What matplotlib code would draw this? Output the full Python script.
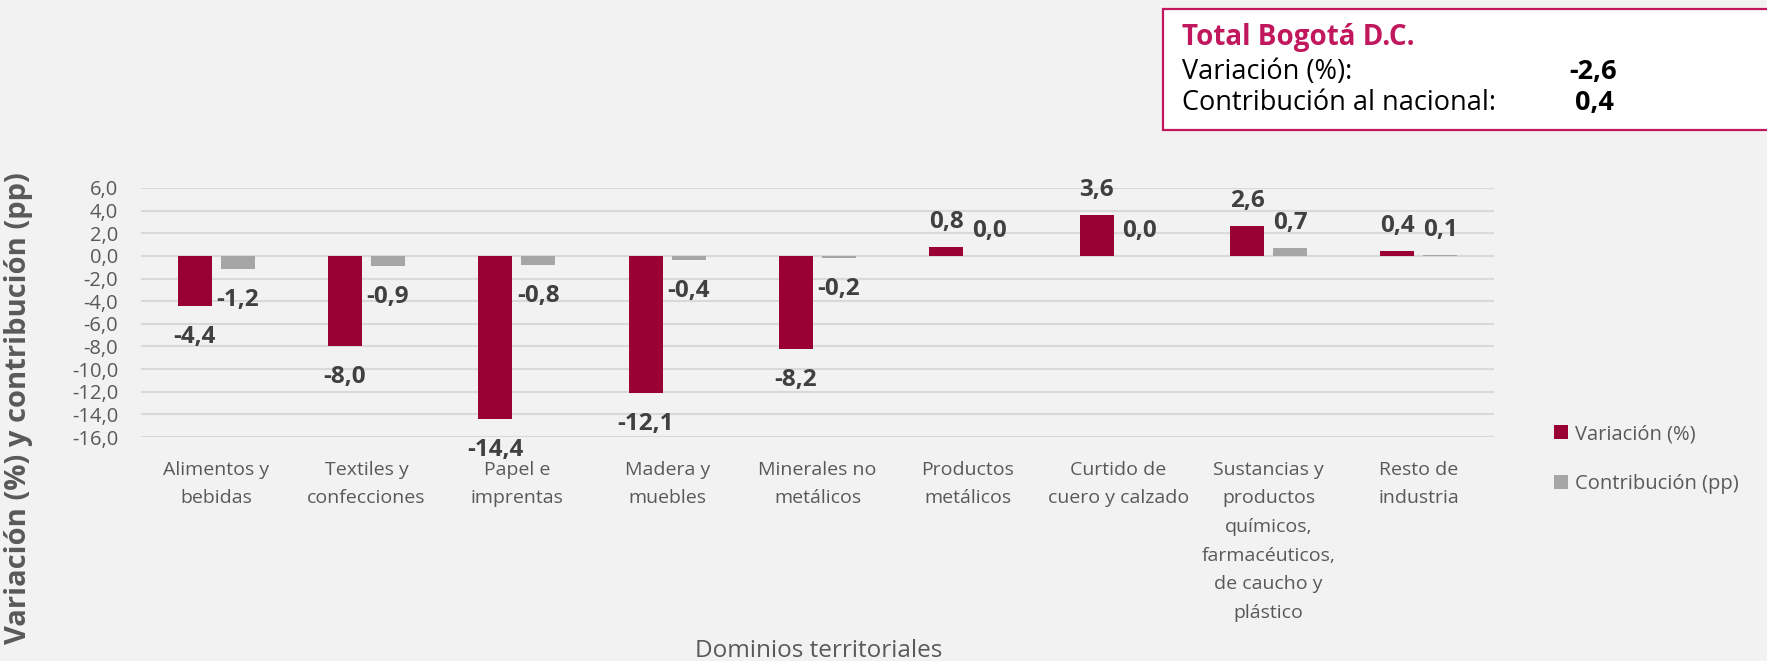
import matplotlib

matplotlib.use("Agg")
import matplotlib.pyplot as plt
import numpy as np
from matplotlib.patches import Rectangle

plt.rcParams["font.family"] = ["Open Sans", "DejaVu Sans"]

BG = "#f2f2f2"
RED, GREY = "#990033", "#a6a6a6"
INK, SUBTLE = "#404040", "#595959"
BOX_C = "#c0175d"

CATEGORIES = ["Alimentos y\nbebidas", "Textiles y\nconfecciones", "Papel e\nimprentas",
              "Madera y\nmuebles", "Minerales no\nmetálicos", "Productos\nmetálicos",
              "Curtido de\ncuero y calzado",
              "Sustancias y\nproductos\nquímicos,\nfarmacéuticos,\nde caucho y\nplástico",
              "Resto de\nindustria"]
VARIACION = [-4.4, -8.0, -14.4, -12.1, -8.2, 0.8, 3.6, 2.6, 0.4]
CONTRIBUCION = [-1.2, -0.9, -0.8, -0.4, -0.2, 0.0, 0.0, 0.7, 0.1]
YTICKS = np.arange(-16, 7, 2)

TOTAL_VAR = -2.6
TOTAL_CONTRIB = 0.4

W, H = 1767, 661


def fmt(v):
    return f"{v:.1f}".replace(".", ",")


fig = plt.figure(figsize=(W / 100, H / 100), dpi=100, facecolor=BG)
ax = fig.add_axes([141 / W, 1 - 437 / H, (1494 - 141) / W, (437 - 188) / H], facecolor=BG)

x = np.arange(len(CATEGORIES))
w, off = 0.225, 0.143
b1 = ax.bar(x - off, VARIACION, w, color=RED, label="Variación (%)", zorder=3)
b2 = ax.bar(x + off, CONTRIBUCION, w, color=GREY, label="Contribución (pp)", zorder=3)

for bars, vals in ((b1, VARIACION), (b2, CONTRIBUCION)):
    for rect, v in zip(bars, vals):
        dy = -31 if v < 0 else 25
        ax.annotate(fmt(v), (rect.get_x() + rect.get_width() / 2, v),
                    xytext=(0, dy), textcoords="offset pixels", ha="center", va="center",
                    fontsize=17.5, weight="bold", color=INK, annotation_clip=False)

ax.set_xlim(-0.5, len(CATEGORIES) - 0.5)
ax.set_ylim(-16, 6)
ax.set_yticks(YTICKS)
ax.set_yticklabels([fmt(v) for v in YTICKS], fontsize=14.5, color=SUBTLE)
ax.set_xticks(x)
ax.set_xticklabels(CATEGORIES, fontsize=14, color=SUBTLE, linespacing=1.76, va="top")
ax.tick_params(axis="y", length=0, pad=16.5)
ax.tick_params(axis="x", length=0, pad=17)
ax.grid(axis="y", color="#d9d9d9", lw=1.5, zorder=0)
for s in ax.spines.values():
    s.set_visible(False)

fig.text(19 / W, 1 - 408 / H, "Variación (%) y contribución (pp)", rotation=90,
         ha="center", va="center", fontsize=21, weight="bold", color=SUBTLE)
fig.text(819 / W, 1 - 651 / H, "Dominios territoriales", ha="center", va="center",
         fontsize=17.5, color=SUBTLE)

ax.legend(loc="upper left", bbox_to_anchor=(1550 / W, 1 - 420 / H),
          bbox_transform=fig.transFigure, frameon=False, fontsize=14.5,
          labelcolor=SUBTLE, handlelength=0.7, handleheight=0.7, handletextpad=0.35,
          labelspacing=1.48, borderaxespad=0, borderpad=0.2)

# summary box, top right (runs off the right edge as in the source)
fig.patches.append(Rectangle((1163 / W, 1 - 130 / H), (1780 - 1163) / W, 121 / H,
                             transform=fig.transFigure, fc="white", ec=BOX_C, lw=1.6))
fig.text(1182 / W, 1 - 37 / H, "Total Bogotá D.C.", ha="left", va="center",
         fontsize=20, weight="bold", color=BOX_C)
fig.text(1182 / W, 1 - 72 / H, "Variación (%):", ha="left", va="center",
         fontsize=19.5, color="black")
fig.text(1182 / W, 1 - 103 / H, "Contribución al nacional:", ha="left", va="center",
         fontsize=19.5, color="black")
fig.text(1617 / W, 1 - 72 / H, fmt(TOTAL_VAR), ha="right", va="center",
         fontsize=19.5, weight="bold", color="black")
fig.text(1614 / W, 1 - 103 / H, fmt(TOTAL_CONTRIB), ha="right", va="center",
         fontsize=19.5, weight="bold", color="black")

fig.savefig("out.png", dpi=100, facecolor=BG)
